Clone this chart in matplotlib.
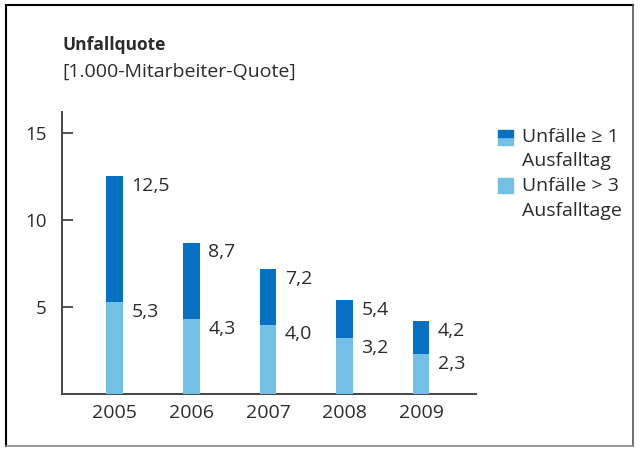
import matplotlib
matplotlib.use('Agg')
import matplotlib.pyplot as plt
from matplotlib.patches import Rectangle

# data
years = ['2005', '2006', '2007', '2008', '2009']
quote_ge1 = [12.5, 8.7, 7.2, 5.4, 4.2]
quote_gt3 = [5.3, 4.3, 4.0, 3.2, 2.3]

dark = '#0670c2'
light = '#74bfe6'
txt = '#2b2b2b'

plt.rcParams['font.family'] = ['Open Sans', 'DejaVu Sans']

fig = plt.figure(figsize=(6.4, 4.5), dpi=100)
ax = fig.add_axes([0.097, 0.124, 0.647, 0.627])

x = list(range(len(years)))
w = 0.22
ax.bar(x, quote_ge1, width=w, color=dark, zorder=2)
ax.bar(x, quote_gt3, width=w, color=light, zorder=3)

def fmt(v):
    return f'{v:.1f}'.replace('.', ',')

for xi, a, b in zip(x, quote_ge1, quote_gt3):
    ax.annotate(fmt(a), xy=(xi + w / 2, a), xytext=(6, -7), textcoords='offset points',
                ha='left', va='center', fontsize=14, color=txt)
    ax.annotate(fmt(b), xy=(xi + w / 2, b), xytext=(6, -7), textcoords='offset points',
                ha='left', va='center', fontsize=14, color=txt)

ax.set_xlim(-0.69, 4.72)
ax.set_ylim(0, 16.2)
ax.set_yticks([5, 10, 15])
ax.set_xticks(x)
ax.set_xticklabels(years)
ax.tick_params(axis='y', direction='in', length=8, width=1.3, color='#444444',
               pad=11, labelsize=13.5, labelcolor=txt)
ax.tick_params(axis='x', length=0, pad=7, labelsize=14, labelcolor=txt)
for s in ['top', 'right']:
    ax.spines[s].set_visible(False)
for s in ['left', 'bottom']:
    ax.spines[s].set_color('#444444')
    ax.spines[s].set_linewidth(1.4)

# title
fig.text(0.097, 0.9, 'Unfallquote', fontsize=12.5, fontweight='bold', color=txt, va='center')
fig.text(0.097, 0.84, '[1.000-Mitarbeiter-Quote]', fontsize=14, color=txt, va='center')

# legend drawn by hand (first swatch is two-tone)
sw = 15 / 640
sh = 15 / 450
lx = 498 / 640
fig.patches.append(Rectangle((lx, 1 - 145 / 450), sw, sh / 2, transform=fig.transFigure,
                             color=light, figure=fig))
fig.patches.append(Rectangle((lx, 1 - 145 / 450 + sh / 2), sw, sh / 2, transform=fig.transFigure,
                             color=dark, figure=fig))
fig.patches.append(Rectangle((lx, 1 - 193 / 450), sw, sh, transform=fig.transFigure,
                             color=light, figure=fig))
tx = 522 / 640
fig.text(tx, 1 - 137 / 450, 'Unfälle ≥ 1', fontsize=14, color=txt, va='center')
fig.text(tx, 1 - 161 / 450, 'Ausfalltag', fontsize=14, color=txt, va='center')
fig.text(tx, 1 - 186 / 450, 'Unfälle > 3', fontsize=14, color=txt, va='center')
fig.text(tx, 1 - 211 / 450, 'Ausfalltage', fontsize=14, color=txt, va='center')

# frame around the graphic
fig.add_artist(plt.Line2D([6 / 640, 6 / 640], [4 / 450, 1 - 5 / 450], color='black', lw=1.5,
                          transform=fig.transFigure))
fig.add_artist(plt.Line2D([6 / 640, 633 / 640], [1 - 5 / 450, 1 - 5 / 450], color='black', lw=1.5,
                          transform=fig.transFigure))
fig.add_artist(plt.Line2D([633 / 640, 633 / 640], [4 / 450, 1 - 5 / 450], color='#555555', lw=1.2,
                          transform=fig.transFigure))
fig.add_artist(plt.Line2D([6 / 640, 633 / 640], [4 / 450, 4 / 450], color='#888888', lw=1.2,
                          transform=fig.transFigure))

fig.savefig('out.png', dpi=100)
